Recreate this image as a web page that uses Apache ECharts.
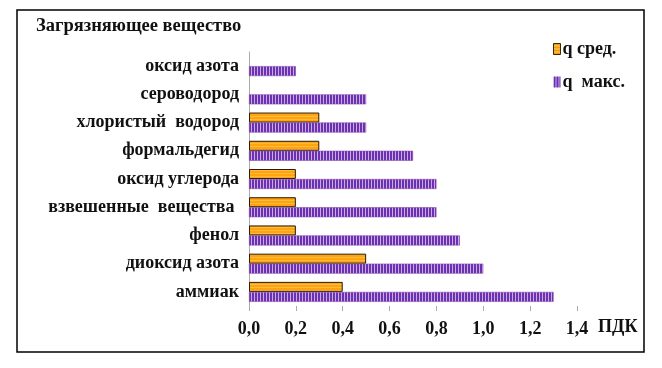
<!DOCTYPE html>
<html><head><meta charset="utf-8">
<script src="https://cdn.jsdelivr.net/npm/echarts@6/dist/echarts.min.js"></script>
<style>html,body{margin:0;padding:0;background:#fff}#c{width:662px;height:368px}</style>
</head><body><div id="c"></div>
<script>
var categories = ['аммиак','диоксид азота','фенол','взвешенные  вещества ','оксид углерода','формальдегид','хлористый  водород','сероводород','оксид азота'];
var qAvg = [0.4, 0.5, 0.2, 0.2, 0.2, 0.3, 0.3, null, null];
var qMax = [1.3, 1.0, 0.9, 0.8, 0.8, 0.7, 0.5, 0.5, 0.2];
var xTicks = ['0,0','0,2','0,4','0,6','0,8','1,0','1,2','1,4'];

function makePattern(w, h, draw) {
  var cv = document.createElement('canvas');
  cv.width = w; cv.height = h;
  var ctx = cv.getContext('2d');
  draw(ctx);
  return {image: cv, repeat: 'repeat'};
}
var purplePat = makePattern(3, 4, function (c) {
  c.fillStyle = '#6e30b0'; c.fillRect(0, 0, 3, 4);
  c.fillStyle = '#c4aee6'; c.fillRect(2, 0, 1, 4);
});
var orangePat = makePattern(4, 3, function (c) {
  c.fillStyle = '#ffa30f'; c.fillRect(0, 0, 4, 3);
  c.fillStyle = '#ffbb40'; c.fillRect(0, 2, 4, 1);
});
var legendOrange = makePattern(4, 3, function (c) {
  c.fillStyle = '#f09a10'; c.fillRect(0, 0, 4, 3);
  c.fillStyle = '#ffd070'; c.fillRect(0, 2, 4, 1);
});

var serif = '"Liberation Serif", "Times New Roman", serif';
var chart = echarts.init(document.getElementById('c'), null, {renderer: 'canvas'});
chart.setOption({
  backgroundColor: '#fff',
  animation: false,
  graphic: [
    {type: 'rect', shape: {x: 17, y: 10, width: 627, height: 342}, style: {fill: 'none', stroke: '#000', lineWidth: 1.5}, z: 100},
    {type: 'text', left: 36, top: 17, style: {text: 'Загрязняющее вещество', font: 'bold 18.5px ' + serif, fill: '#111'}}
  ],
  grid: {left: 249, top: 52, width: 328, height: 254, containLabel: false},
  legend: {
    orient: 'vertical', left: 548, top: 35, itemGap: 15, itemWidth: 7, itemHeight: 11,
    icon: 'rect',
    textStyle: {fontFamily: serif, fontWeight: 'bold', fontSize: 18, color: '#111', padding: [0, 0, 0, -3]},
    data: [
      {name: 'q сред.', itemStyle: {color: legendOrange, borderColor: '#3a2a00', borderWidth: 1}},
      {name: 'q  макс.', itemStyle: {color: purplePat, borderColor: '#7a3fb9', borderWidth: 0}}
    ]
  },
  xAxis: {
    type: 'value', min: 0, max: 1.4, interval: 0.2,
    name: 'ПДК', nameLocation: 'end', nameGap: 21,
    nameTextStyle: {fontFamily: serif, fontWeight: 'bold', fontSize: 18, color: '#111', verticalAlign: 'top', padding: [12, 0, 0, 0]},
    axisLine: {show: false},
    axisTick: {show: true, length: 5, lineStyle: {color: '#aaa'}},
    splitLine: {show: false},
    axisLabel: {
      margin: 14, fontFamily: serif, fontWeight: 'bold', fontSize: 18, color: '#111',
      formatter: function (v) { return xTicks[Math.round(v / 0.2)]; }
    }
  },
  yAxis: {
    type: 'category', data: categories,
    axisLine: {show: true, lineStyle: {color: '#aaa', width: 1}},
    axisTick: {show: false},
    axisLabel: {margin: 10, fontFamily: serif, fontWeight: 'bold', fontSize: 18, color: '#111'}
  },
  series: [
    {name: 'q сред.', type: 'bar', data: qAvg, barWidth: 10, barGap: '0%',
     itemStyle: {color: orangePat, borderColor: '#2a1a00', borderWidth: 1}},
    {name: 'q  макс.', type: 'bar', data: qMax, barWidth: 10, barGap: '0%',
     itemStyle: {color: purplePat, borderColor: '#8a4aa8', borderWidth: 0.6}}
  ]
});
</script></body></html>
